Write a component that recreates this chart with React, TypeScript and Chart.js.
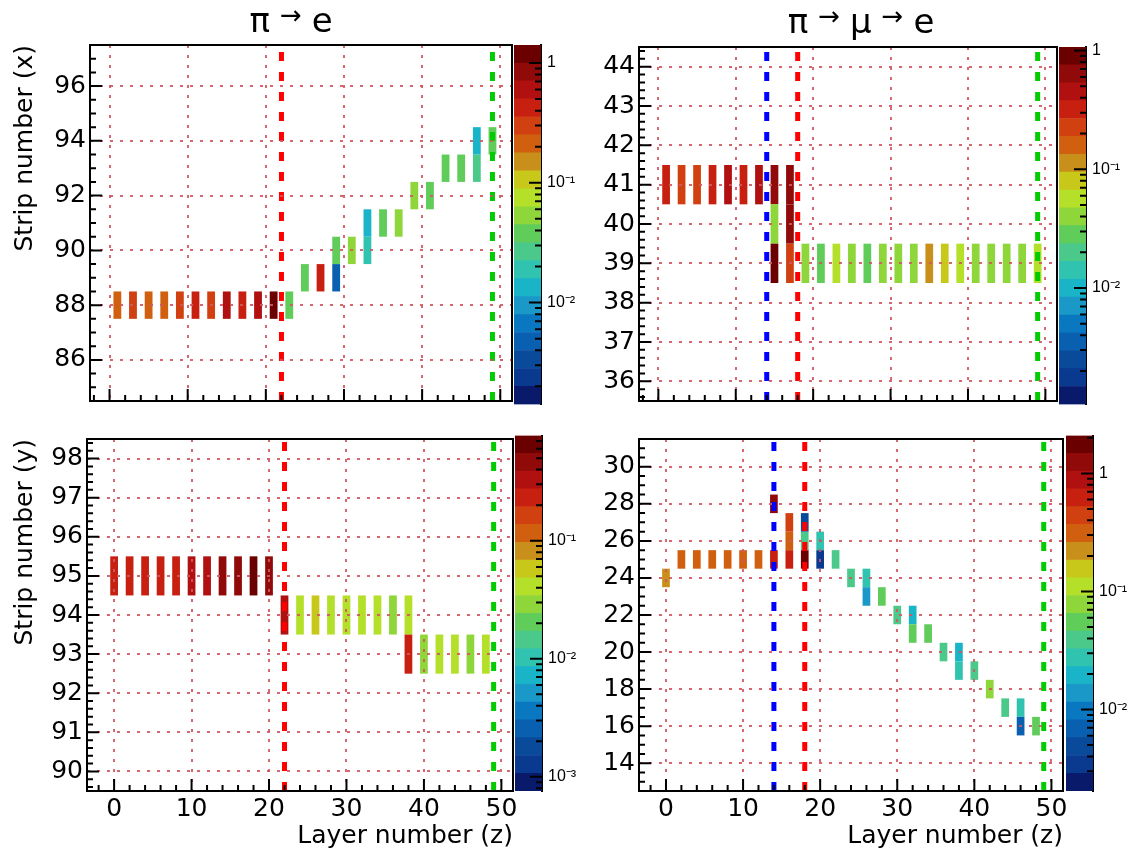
import React, { useEffect, useRef } from 'react';
import { Chart, registerables } from 'chart.js';

Chart.register(...registerables);

// ---------------- data ----------------
// top-left: pi -> e, strip (x) view
const tlLayers = [1, 3, 5, 7, 9, 11, 13, 15, 17, 19, 21, 23, 25, 27, 29, 29, 31, 33, 33, 35, 37, 39, 41, 43, 45, 47, 47, 49];
const tlStrips = [88, 88, 88, 88, 88, 88, 88, 88, 88, 88, 88, 88, 89, 89, 89, 90, 90, 90, 91, 91, 91, 92, 92, 93, 93, 93, 94, 94];
const tlEnergy = [0.2, 0.3, 0.21, 0.19, 0.28, 0.4, 0.31, 0.6, 0.42, 0.58, 1.1, 0.036, 0.035, 0.43, 0.0045, 0.038, 0.052, 0.018, 0.012, 0.037, 0.055, 0.05, 0.039, 0.036, 0.038, 0.025, 0.013, 0.034];
const tlMarkerZ = [22, 49];
const tlYTicks = [86, 88, 90, 92, 94, 96];

// top-right: pi -> mu -> e, strip (x) view
const trLayers = [1, 3, 5, 7, 9, 11, 13, 15, 15, 15, 17, 17, 17, 19, 21, 23, 25, 27, 29, 31, 33, 35, 37, 39, 41, 43, 45, 47, 49];
const trStrips = [41, 41, 41, 41, 41, 41, 41, 41, 40, 39, 41, 40, 39, 39, 39, 39, 39, 39, 39, 39, 39, 39, 39, 39, 39, 39, 39, 39, 39];
const trEnergy = [0.33, 0.22, 0.24, 0.35, 0.46, 0.34, 0.48, 0.65, 0.042, 0.92, 0.7, 0.62, 0.23, 0.041, 0.029, 0.056, 0.043, 0.03, 0.039, 0.045, 0.042, 0.11, 0.08, 0.058, 0.04, 0.044, 0.038, 0.042, 0.06];
const trMarkerZ = [14, 18, 49];
const trYTicks = [36, 37, 38, 39, 40, 41, 42, 43, 44];

// bottom-left: pi -> e, strip (y) view
const blLayers = [0, 2, 4, 6, 8, 10, 12, 14, 16, 18, 20, 22, 24, 26, 28, 30, 32, 34, 36, 38, 38, 40, 42, 44, 46, 48];
const blStrips = [95, 95, 95, 95, 95, 95, 95, 95, 95, 95, 95, 94, 94, 94, 94, 94, 94, 94, 94, 94, 93, 93, 93, 93, 93, 93];
const blEnergy = [0.22, 0.24, 0.23, 0.25, 0.24, 0.3, 0.33, 0.42, 0.44, 0.62, 0.45, 0.31, 0.042, 0.058, 0.041, 0.044, 0.04, 0.043, 0.028, 0.045, 0.22, 0.03, 0.041, 0.039, 0.029, 0.042];
const blMarkerZ = [22, 49];
const blYTicks = [90, 91, 92, 93, 94, 95, 96, 97, 98];

// bottom-right: pi -> mu -> e, strip (y) view
const brLayers = [0, 2, 4, 6, 8, 10, 12, 14, 14, 16, 16, 16, 18, 18, 18, 20, 20, 22, 24, 26, 26, 28, 30, 32, 32, 34, 36, 38, 38, 40, 42, 44, 46, 46, 48];
const brStrips = [24, 25, 25, 25, 25, 25, 25, 25, 28, 25, 26, 27, 25, 26, 27, 25, 26, 25, 24, 24, 23, 23, 22, 22, 21, 21, 20, 20, 19, 19, 18, 17, 17, 16, 16];
const brEnergy = [0.22, 0.32, 0.33, 0.31, 0.34, 0.32, 0.33, 0.62, 1.2, 0.65, 0.3, 0.45, 1.8, 0.038, 0.0048, 0.0034, 0.027, 0.037, 0.039, 0.026, 0.014, 0.054, 0.036, 0.019, 0.056, 0.053, 0.039, 0.018, 0.028, 0.037, 0.08, 0.038, 0.026, 0.0072, 0.056];
const brMarkerZ = [14, 18, 49];
const brYTicks = [14, 16, 18, 20, 22, 24, 26, 28, 30];

// shared layer-axis tick labels
const layerTicks = [0, 10, 20, 30, 40, 50];

// colour palette (bottom -> top of the colour bar)
const PALETTE = ['#0a1a6a', '#0a3a90', '#0a4a9a', '#0a60b0', '#0a78c0', '#1a98c8', '#1ab4c8', '#30c4b0', '#4bc98a', '#60cc5a', '#8fd63a', '#b5e02a', '#c8c81a', '#c8901a', '#d06010', '#d04010', '#c82010', '#b01010', '#900a0a', '#6a0000'];

const FONT = "'DejaVu Sans', 'Liberation Sans', sans-serif";
const CBAR_FONT = "'Liberation Sans', Arial, sans-serif";
const GRID_COLOR = 'rgba(208, 88, 98, 0.9)';
const RED = '#ff0000';
const GREEN = '#00cc00';
const BLUE = '#0000ff';

function colorFor(v: number, range: number[]) {
  const t = (Math.log10(v) - range[0]) / (range[1] - range[0]);
  const k = Math.min(PALETTE.length - 1, Math.max(0, Math.floor(t * PALETTE.length)));
  return PALETTE[k];
}

const SUP: Record<string, string> = { '-': '\u207b', '0': '\u2070', '1': '\u00b9', '2': '\u00b2', '3': '\u00b3', '4': '\u2074', '5': '\u2075', '6': '\u2076', '7': '\u2077', '8': '\u2078', '9': '\u2079' };
function decadeLabel(v: number) {
  const e = Math.round(Math.log10(v));
  if (e === 0) return '1';
  if (e === 1) return '10';
  return '10' + String(e).split('').map((c) => SUP[c] || c).join('');
}
function isDecade(v: number) {
  const l = Math.log10(v);
  return Math.abs(l - Math.round(l)) < 1e-6;
}

type Box = { left: number; top: number; width: number; height: number };

const PANELS = [
  {
    id: 'tl',
    layers: tlLayers, strips: tlStrips, energy: tlEnergy, yTicks: tlYTicks,
    markers: tlMarkerZ, markerColors: [RED, GREEN],
    xRange: [-2.5, 51.5], yRange: [84.5, 97.5], yStep: 2, yMinor: 0.5,
    logRange: [-2.85, 0.15],
    box: { left: 0, top: 0, width: 560, height: 420 },
    pad: { left: 0, top: 45, right: 48, bottom: 12 },
    yWidth: 90, xHeight: 0, xTitle: '', yTitle: 'Strip number (x)',
    title: { parts: ['\u03c0', '\u2192', 'e'], x: 291, y: 32 },
    cbar: { box: { left: 514, top: 0, width: 72, height: 420 }, pad: { left: 0, top: 45, right: 0, bottom: 12 }, yWidth: 45 },
  },
  {
    id: 'tr',
    layers: trLayers, strips: trStrips, energy: trEnergy, yTicks: trYTicks,
    markers: trMarkerZ, markerColors: [BLUE, RED, GREEN],
    xRange: [-2.5, 51.5], yRange: [35.5, 44.5], yStep: 1, yMinor: 0.2,
    logRange: [-2.98, 0.03],
    box: { left: 570, top: 0, width: 563, height: 420 },
    pad: { left: 0, top: 47, right: 76, bottom: 12 },
    yWidth: 69, xHeight: 0, xTitle: '', yTitle: '',
    title: { parts: ['\u03c0', '\u2192', '\u03bc', '\u2192', 'e'], x: 291, y: 33 },
    cbar: { box: { left: 1059, top: 0, width: 74, height: 420 }, pad: { left: 0, top: 47, right: 0, bottom: 12 }, yWidth: 47 },
  },
  {
    id: 'bl',
    layers: blLayers, strips: blStrips, energy: blEnergy, yTicks: blYTicks,
    markers: blMarkerZ, markerColors: [RED, GREEN],
    xRange: [-3.5, 51.5], yRange: [89.5, 98.5], yStep: 1, yMinor: 0.2,
    logRange: [-3.12, -0.11],
    box: { left: 0, top: 420, width: 560, height: 434 },
    pad: { left: 0, top: 5, right: 47, bottom: 0 },
    yWidth: 87, xHeight: 63, xTitle: 'Layer number (z)', yTitle: 'Strip number (y)',
    title: null,
    cbar: { box: { left: 515, top: 420, width: 72, height: 434 }, pad: { left: 0, top: 5, right: 0, bottom: 63 }, yWidth: 45 },
  },
  {
    id: 'br',
    layers: brLayers, strips: brStrips, energy: brEnergy, yTicks: brYTicks,
    markers: brMarkerZ, markerColors: [BLUE, RED, GREEN],
    xRange: [-3.5, 51.5], yRange: [12.5, 31.5], yStep: 2, yMinor: 0.5,
    logRange: [-2.69, 0.32],
    box: { left: 570, top: 420, width: 563, height: 434 },
    pad: { left: 0, top: 8, right: 70, bottom: 0 },
    yWidth: 69, xHeight: 63, xTitle: 'Layer number (z)', yTitle: '',
    title: null,
    cbar: { box: { left: 1066, top: 420, width: 67, height: 434 }, pad: { left: 0, top: 8, right: 0, bottom: 63 }, yWidth: 40 },
  },
];

function makeFramePlugin(xMinor: number, xMajor: number, yMinor: number, yMajor: number) {
  return {
    id: 'frameTicks',
    afterDraw(chart: any) {
      const { ctx, chartArea: a } = chart;
      const xs = chart.scales.x;
      const ys = chart.scales.y;
      const each = (scale: any, minor: number, major: number, fn: (p: number, len: number) => void) => {
        const i0 = Math.ceil(scale.min / minor - 1e-9);
        const i1 = Math.floor(scale.max / minor + 1e-9);
        for (let i = i0; i <= i1; i++) {
          const v = i * minor;
          const r = v / major;
          const maj = Math.abs(r - Math.round(r)) < 1e-6;
          fn(scale.getPixelForValue(v), maj ? 12 : 6);
        }
      };
      ctx.save();
      ctx.strokeStyle = '#000';
      ctx.lineWidth = 2;
      ctx.beginPath();
      each(xs, xMinor, xMajor, (p, len) => { ctx.moveTo(p, a.bottom); ctx.lineTo(p, a.bottom - len); });
      each(ys, yMinor, yMajor, (p, len) => { ctx.moveTo(a.left, p); ctx.lineTo(a.left + len, p); });
      ctx.stroke();
      ctx.strokeRect(a.left, a.top, a.right - a.left, a.bottom - a.top);
      ctx.restore();
    },
  };
}

function makeTitlePlugin(parts: string[], cx: number, baseline: number) {
  return {
    id: 'panelTitle',
    afterDraw(chart: any) {
      const { ctx } = chart;
      ctx.save();
      ctx.fillStyle = '#000';
      ctx.textBaseline = 'alphabetic';
      ctx.textAlign = 'left';
      const specs = parts.map((t) => (t === '\u2192' ? { t, size: 26, dy: -8 } : { t, size: 34, dy: 0 }));
      const gap = 10;
      const widths = specs.map((s) => { ctx.font = `${s.size}px ${FONT}`; return ctx.measureText(s.t).width; });
      const total = widths.reduce((s, w) => s + w, 0) + gap * (specs.length - 1);
      let x = cx - total / 2;
      specs.forEach((s, i) => {
        ctx.font = `${s.size}px ${FONT}`;
        ctx.fillText(s.t, x, baseline + s.dy);
        x += widths[i] + gap;
      });
      ctx.restore();
    },
  };
}

function makeCbarTicksPlugin(logRange: number[]) {
  return {
    id: 'cbarTicks',
    afterDraw(chart: any) {
      const { ctx, chartArea: a } = chart;
      const ys = chart.scales.y;
      ctx.save();
      ctx.strokeStyle = '#000';
      ctx.lineWidth = 2;
      ctx.beginPath();
      for (let n = Math.floor(logRange[0]); n <= Math.ceil(logRange[1]); n++) {
        for (let m = 1; m <= 9; m++) {
          const v = m * Math.pow(10, n);
          const lv = Math.log10(v);
          if (lv < logRange[0] || lv > logRange[1]) continue;
          const p = ys.getPixelForValue(v);
          const len = m === 1 ? 12 : 6;
          ctx.moveTo(a.right, p);
          ctx.lineTo(a.right - len, p);
        }
      }
      ctx.stroke();
      ctx.restore();
    },
  };
}

function buildMain(ctx: CanvasRenderingContext2D, P: any) {
  const gridOpts = { color: GRID_COLOR, lineWidth: 2, drawTicks: false, z: 1, offset: false, borderDash: [3, 7] };
  const borderOpts = { display: false, dash: [3, 7] };
  const lineSets = P.markers.map((z: number, i: number) => ({
    type: 'line',
    data: [{ x: z, y: P.yRange[0] }, { x: z, y: P.yRange[1] }],
    borderColor: P.markerColors[i],
    borderWidth: 5,
    borderDash: [9, 11],
    borderCapStyle: 'butt',
    pointRadius: 0,
    fill: false,
    tension: 0,
    order: 0,
  }));
  const cellSet = {
    type: 'bar',
    data: P.layers.map((z: number, i: number) => ({ x: z, y: [P.strips[i] - 0.5, P.strips[i] + 0.5] })),
    backgroundColor: P.energy.map((e: number) => colorFor(e, P.logRange)),
    borderWidth: 0,
    barPercentage: 0.5,
    categoryPercentage: 1,
    grouped: false,
    order: 1,
  };
  const plugins: any[] = [makeFramePlugin(2, 10, P.yMinor, P.yStep)];
  if (P.title) plugins.push(makeTitlePlugin(P.title.parts, P.title.x, P.title.y));
  return new Chart(ctx, {
    type: 'bar',
    data: { datasets: [...lineSets, cellSet] as any },
    options: {
      animation: false,
      responsive: false,
      maintainAspectRatio: false,
      layout: { padding: P.pad },
      plugins: { legend: { display: false }, tooltip: { enabled: false }, title: { display: false } },
      scales: {
        x: {
          type: 'linear',
          min: P.xRange[0],
          max: P.xRange[1],
          offset: false,
          grid: gridOpts,
          border: borderOpts,
          afterBuildTicks: (s: any) => { s.ticks = layerTicks.map((v) => ({ value: v })); },
          ticks: {
            display: !!P.xTitle,
            autoSkip: false,
            maxRotation: 0,
            padding: 3,
            color: '#000',
            font: { family: FONT, size: 25 },
          },
          title: {
            display: !!P.xTitle,
            text: P.xTitle,
            align: 'end',
            color: '#000',
            font: { family: FONT, size: 25 },
            padding: { top: 0, bottom: 3 },
          },
          afterFit: (s: any) => { s.height = P.xHeight; },
        },
        y: {
          type: 'linear',
          min: P.yRange[0],
          max: P.yRange[1],
          grid: gridOpts,
          border: borderOpts,
          afterBuildTicks: (s: any) => { s.ticks = P.yTicks.map((v: number) => ({ value: v })); },
          ticks: {
            autoSkip: false,
            padding: 4,
            color: '#000',
            font: { family: FONT, size: 25 },
          },
          title: {
            display: !!P.yTitle,
            text: P.yTitle,
            align: 'end',
            color: '#000',
            font: { family: FONT, size: 25 },
            padding: { top: 10, bottom: 0 },
          },
          afterFit: (s: any) => { s.width = P.yWidth; },
        },
      },
    } as any,
    plugins,
  });
}

function buildCbar(ctx: CanvasRenderingContext2D, P: any) {
  const [lo, hi] = P.logRange;
  const step = (hi - lo) / PALETTE.length;
  const bands = PALETTE.map((c, k) => ({
    data: [[Math.pow(10, lo + k * step), Math.pow(10, lo + (k + 1) * step)]],
    backgroundColor: c,
    borderWidth: 0,
    barPercentage: 1,
    categoryPercentage: 1,
    grouped: false,
  }));
  return new Chart(ctx, {
    type: 'bar',
    data: { labels: ['E'], datasets: bands as any },
    options: {
      animation: false,
      responsive: false,
      maintainAspectRatio: false,
      layout: { padding: P.cbar.pad },
      plugins: { legend: { display: false }, tooltip: { enabled: false } },
      scales: {
        x: { display: false },
        y: {
          type: 'logarithmic',
          position: 'right',
          min: Math.pow(10, lo),
          max: Math.pow(10, hi),
          grid: { display: false, drawTicks: false },
          border: { display: true, color: '#000', width: 2 },
          ticks: {
            autoSkip: false,
            padding: 6,
            color: '#000',
            font: { family: CBAR_FONT, size: 16 },
            callback: (v: any) => decadeLabel(Number(v)),
          },
          afterBuildTicks: (s: any) => { s.ticks = s.ticks.filter((t: any) => isDecade(t.value)); },
          afterFit: (s: any) => { s.width = P.cbar.yWidth; },
        },
      },
    } as any,
    plugins: [makeCbarTicksPlugin(P.logRange)],
  });
}

function ChartCanvas({ box, build }: { box: Box; build: (ctx: CanvasRenderingContext2D) => any }) {
  const ref = useRef<HTMLCanvasElement | null>(null);
  useEffect(() => {
    const el = ref.current;
    if (!el) return;
    const chart = build(el.getContext('2d') as CanvasRenderingContext2D);
    return () => chart.destroy();
  }, []);
  return (
    <canvas
      ref={ref}
      width={box.width}
      height={box.height}
      style={{ position: 'absolute', left: box.left, top: box.top, width: box.width, height: box.height }}
    />
  );
}

export default function App() {
  return (
    <div style={{ position: 'absolute', left: 0, top: 0, width: 1133, height: 854, background: '#fff', overflow: 'hidden' }}>
      {PANELS.map((P) => (
        <React.Fragment key={P.id}>
          <ChartCanvas box={P.cbar.box} build={(ctx) => buildCbar(ctx, P)} />
          <ChartCanvas box={P.box} build={(ctx) => buildMain(ctx, P)} />
        </React.Fragment>
      ))}
    </div>
  );
}
